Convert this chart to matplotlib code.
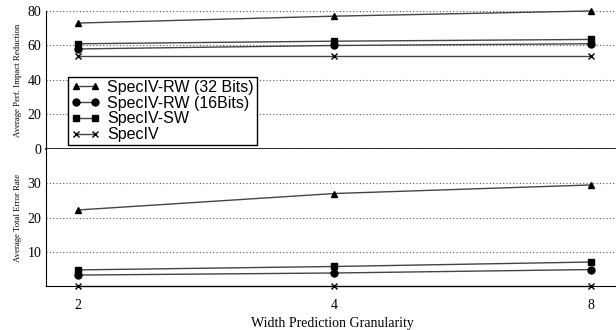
import numpy as np
import matplotlib.pyplot as plt

# data
granularity = ["2", "4", "8"]
series = ["SpecIV-RW (32 Bits)", "SpecIV-RW (16Bits)", "SpecIV-SW", "SpecIV"]
markers = ["^", "o", "s", "x"]

perf_rw32 = [73, 77, 80]
perf_rw16 = [58, 60, 61]
perf_sw = [61, 62.5, 63.5]
perf_spec = [54, 54, 54]

err_rw32 = [22.2, 27.0, 29.5]
err_rw16 = [3.2, 3.8, 4.8]
err_sw = [4.7, 5.7, 7.0]
err_spec = [0, 0, 0]

perf = [perf_rw32, perf_rw16, perf_sw, perf_spec]
err = [err_rw32, err_rw16, err_sw, err_spec]

serif = "Liberation Serif"
sans = "Liberation Sans"

fig = plt.figure(figsize=(6.16, 3.30), dpi=100)
ax1 = fig.add_axes([0.0747, 0.5485, 0.93, 0.4182])
ax2 = fig.add_axes([0.0747, 0.1333, 0.93, 0.4152])

x = np.arange(len(granularity))

for ax, data in [(ax1, perf), (ax2, err)]:
    for name, vals, m in zip(series, data, markers):
        ax.plot(x, vals, color="#444444", lw=1.0, marker=m, markersize=5,
                markerfacecolor="black", markeredgecolor="black",
                markeredgewidth=1.0, label=name, clip_on=False)
    ax.set_xlim(-0.125, 2.11)
    ax.grid(axis="y", linestyle=(0, (1, 2)), color="#555555", lw=0.8)
    ax.spines["right"].set_visible(False)
    ax.spines["top"].set_visible(False)
    ax.tick_params(length=0, labelsize=10)

# top panel
ax1.set_ylim(0, 80)
ax1.set_yticks([0, 20, 40, 60, 80])
ax1.set_yticklabels(["0", "20", "40", "60", "80"], fontfamily=serif, fontsize=10)
ax1.set_xticks([])
ax1.set_ylabel("Average Perf. Impact Reduction", fontfamily=serif, fontsize=6.3)
ax1.spines["bottom"].set_linewidth(1.2)
leg = ax1.legend(loc="upper left", bbox_to_anchor=(0.038, 0.525), numpoints=2,
                 prop={"family": sans, "size": 11.5}, frameon=True, fancybox=False,
                 edgecolor="black", framealpha=1, borderpad=0.2, labelspacing=0.05,
                 handlelength=1.8, handletextpad=0.45, borderaxespad=0)
leg.get_frame().set_linewidth(1.0)

# bottom panel
ax2.set_ylim(0, 40)
ax2.set_yticks([10, 20, 30])
ax2.set_yticklabels(["10", "20", "30"], fontfamily=serif, fontsize=10)
ax2.set_xticks(x)
ax2.set_xticklabels(granularity, fontfamily=serif, fontsize=10)
ax2.tick_params(axis="x", pad=9)
ax2.set_ylabel("Average Total Error Rate", fontfamily=serif, fontsize=6.3)
ax2.set_xlabel("Width Prediction Granularity", fontfamily=serif, fontsize=10, labelpad=4)

fig.savefig("out.png", dpi=100)
